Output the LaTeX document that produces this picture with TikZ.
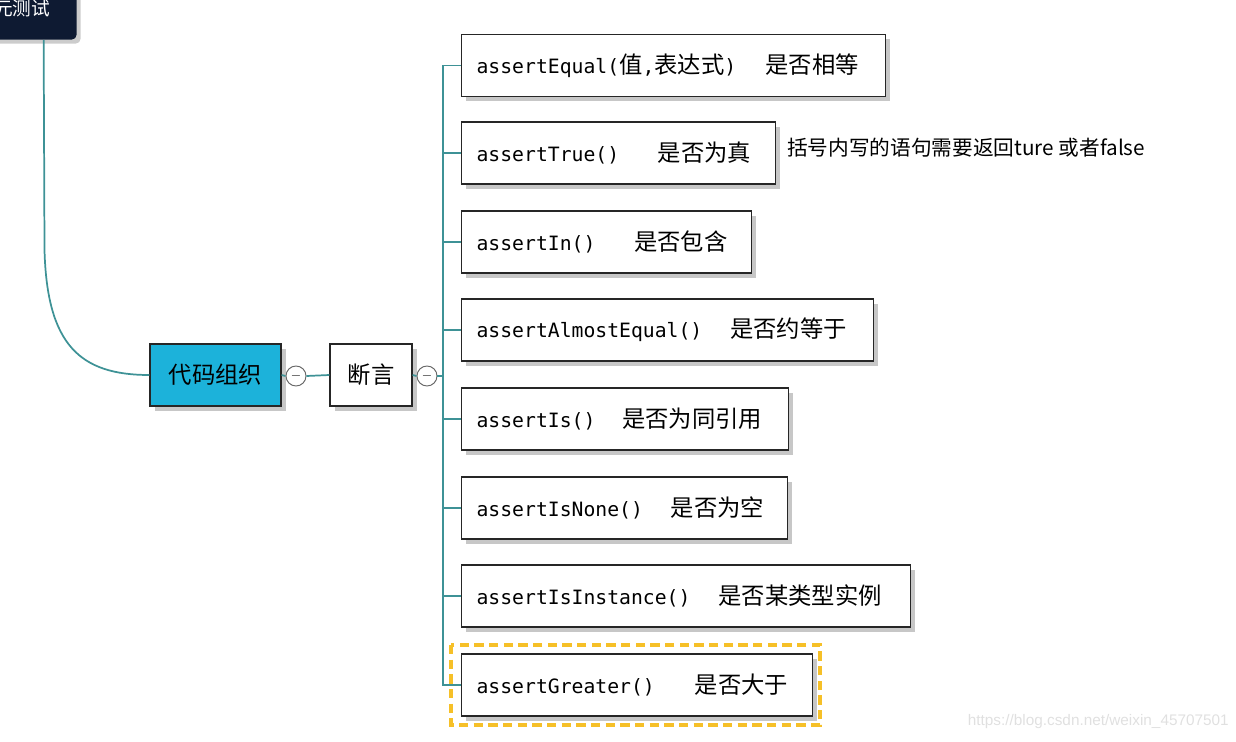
\documentclass[tikz,border=0pt]{standalone}
\usepackage{fontspec}
\usepackage{tikz}
\usetikzlibrary{shadows,positioning}
\newfontfamily\hanfont{Noto Sans CJK SC}
\newfontfamily\codefont{DejaVu Sans Mono}
\newcommand\zh[1]{{\hanfont\fontsize{17.5}{20}\selectfont #1}}
\newcommand\cd[1]{{\codefont\fontsize{14.8}{20}\selectfont #1}}
\definecolor{branchcol}{RGB}{62,146,150}
\definecolor{topiccol}{RGB}{28,178,218}
\definecolor{navy}{RGB}{14,26,50}
\definecolor{markcol}{RGB}{246,192,40}
\tikzset{
  branch/.style={draw=branchcol,line width=1.3pt},
  boxshadow/.style={drop shadow={shadow xshift=3.5pt,shadow yshift=-3.5pt,fill=black!22,opacity=1}},
  item/.style={draw=black!85,fill=white,line width=0.9pt,anchor=west,inner xsep=11.25pt,
    minimum height=46.5pt,align=left,boxshadow},
  topic/.style={draw=black!85,line width=0.9pt,minimum height=46.5pt,inner sep=0pt,boxshadow},
  fold/.style={circle,draw=black!60,fill=white,line width=0.7pt,minimum size=15pt,inner sep=0pt}
}
\begin{document}
\begin{tikzpicture}[x=0.75pt,y=-0.75pt]
\useasboundingbox (0,0) rectangle (1236,742);
% parent topic, cut by the border
\node[fill=navy,rounded corners=4pt,anchor=south east,minimum height=46.5pt,minimum width=82pt,
  inner xsep=15pt,text=white,align=right,
  drop shadow={shadow xshift=3pt,shadow yshift=-3pt,fill=black!20,opacity=1}]
  (unit) at (77,40) {\hfill\zh{\fontsize{14}{16}\selectfont 元测试}};
\node[topic,fill=topiccol,minimum width=98.25pt] (daima) at (215.5,375) {\zh{代码组织}};
\node[fold] (f1) at (296,376) {$-$};
\node[topic,fill=white,minimum width=61.5pt] (duanyan) at (371,375) {\zh{断言}};
\node[fold] (f2) at (427,376) {$-$};
\coordinate (hub) at (443,376);

% the assert items
\node[item,text width=295.5pt] (a1) at (461,65.5) {\cd{assertEqual(}\zh{值}\cd{,}\zh{表达式}\cd{)}\hspace{22pt}\zh{是否相等}};
\node[item,text width=213pt] (a2) at (461,153) {\cd{assertTrue()}\hspace{29pt}\zh{是否为真}};
\node[item,text width=195pt] (a3) at (461,242) {\cd{assertIn()}\hspace{29pt}\zh{是否包含}};
\node[item,text width=286.5pt] (a4) at (461,330) {\cd{assertAlmostEqual()}\hspace{21pt}\zh{是否约等于}};
\node[item,text width=222.75pt] (a5) at (461,419) {\cd{assertIs()}\hspace{20pt}\zh{是否为同引用}};
\node[item,text width=222pt] (a6) at (461,508) {\cd{assertIsNone()}\hspace{21pt}\zh{是否为空}};
\node[item,text width=314.25pt] (a7) at (461,596) {\cd{assertIsInstance()}\hspace{21pt}\zh{是否某类型实例}};
\node[item,text width=240.75pt] (a8) at (461,685) {\cd{assertGreater()}\hspace{30pt}\zh{是否大于}};
\draw[markcol,line width=2.6pt,dash pattern=on 7pt off 4pt] (451,645) rectangle (820,725);

% note beside assertTrue
\node[anchor=west,inner sep=0pt] (note) at (787,148)
  {\hanfont\fontsize{15.5}{18}\selectfont 括号内写的语句需要返回ture 或者false};

% connectors
\draw[branch] ([xshift=-25pt]unit.south east) -- (44.5,250)
  .. controls (47,345) and (80,375) .. (daima.west);
\draw[branch] (daima.east) -- (f1.west);
\draw[branch] (f1.east) -- (duanyan.west);
\draw[branch] (duanyan.east) -- (f2.west);
\draw[branch] (f2.east) -- (hub);
\foreach \i in {1,...,8}
  \draw[branch] (hub) |- (a\i.west);

\node[anchor=east,text=black!12,inner sep=0pt] (mark) at (1229,722)
  {\fontspec{Liberation Sans}\fontsize{11.5}{13}\selectfont https://blog.csdn.net/weixin\_45707501};
\end{tikzpicture}
\end{document}
